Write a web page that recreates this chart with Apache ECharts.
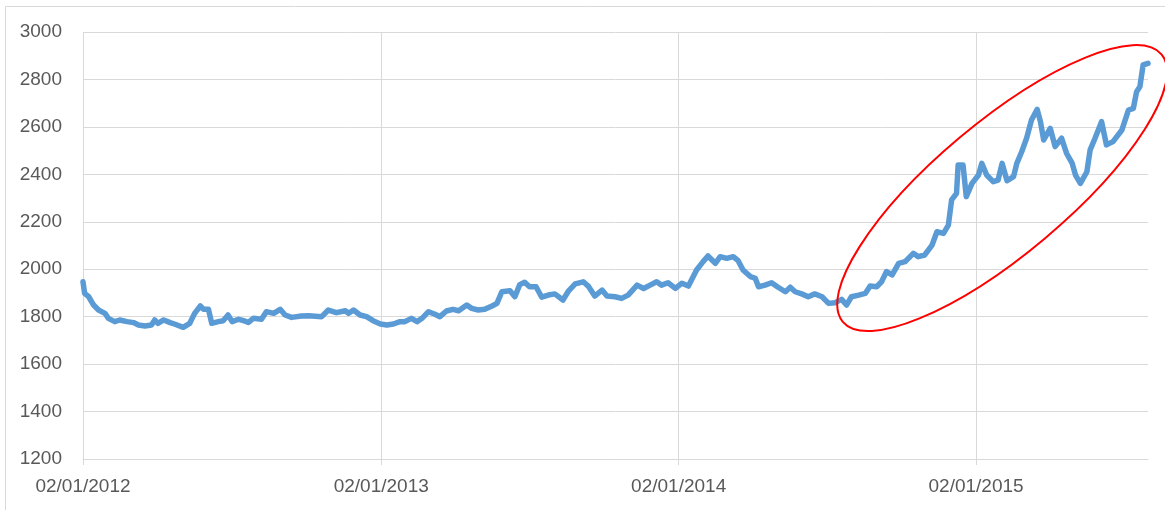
<!DOCTYPE html>
<html>
<head>
<meta charset="utf-8">
<script src="https://cdn.jsdelivr.net/npm/echarts@6/dist/echarts.min.js"></script>
<style>
  html, body { margin: 0; padding: 0; background: #fff; }
  #chart { width: 1165px; height: 510px; }
</style>
</head>
<body>
<div id="chart"></div>
<script>
// days since 02/01/2012
const dayOffsets = [
  0, 2, 7, 13, 19, 27, 31, 39, 45, 54,
  62, 68, 76, 84, 88, 92, 99, 107, 113, 123,
  131, 137, 144, 148, 154, 158, 166, 172, 178, 183,
  191, 197, 203, 209, 219, 225, 234, 242, 248, 256,
  268, 277, 293, 301, 311, 322, 326, 332, 340, 348,
  356, 365, 373, 381, 389, 395, 403, 410, 416, 424,
  432, 438, 446, 454, 461, 471, 477, 485, 493, 502,
  508, 514, 524, 530, 536, 542, 548, 556, 563, 571,
  579, 589, 596, 604, 614, 620, 628, 637, 643, 653,
  661, 669, 680, 688, 696, 704, 710, 718, 727, 735,
  743, 753, 761, 767, 776, 782, 790, 798, 804, 810,
  819, 825, 829, 837, 845, 853, 862, 868, 874, 882,
  890, 898, 907, 915, 923, 931, 937, 943, 952, 960,
  966, 974, 980, 986, 993, 1001, 1009, 1019, 1025, 1033,
  1042, 1048, 1056, 1062, 1066, 1072, 1074, 1080, 1084, 1091,
  1099, 1103, 1109, 1117, 1123, 1128, 1134, 1142, 1146, 1152,
  1158, 1164, 1171, 1175, 1179, 1187, 1193, 1201, 1207, 1214,
  1218, 1224, 1232, 1236, 1242, 1250, 1256, 1264, 1275, 1283,
  1289, 1293, 1297, 1301, 1307
];

const prices = [
  1947, 1898, 1884, 1849, 1828, 1814, 1793, 1779, 1786, 1779,
  1775, 1765, 1761, 1765, 1786, 1772, 1786, 1775, 1768, 1755,
  1772, 1814, 1845, 1831, 1831, 1772, 1779, 1783, 1807, 1779,
  1789, 1783, 1776, 1793, 1789, 1821, 1814, 1831, 1807, 1797,
  1803, 1804, 1800, 1828, 1817, 1825, 1814, 1828, 1807, 1800,
  1783, 1769, 1765, 1769, 1779, 1779, 1793, 1779, 1793, 1821,
  1810, 1800, 1824, 1831, 1825, 1849, 1835, 1828, 1831, 1845,
  1856, 1905, 1909, 1884, 1935, 1945, 1926, 1926, 1882, 1891,
  1896, 1870, 1909, 1938, 1947, 1929, 1887, 1912, 1887, 1884,
  1877, 1891, 1933, 1919, 1933, 1947, 1933, 1943, 1919, 1941,
  1929, 1997, 2032, 2056, 2025, 2053, 2046, 2053, 2036, 1997,
  1969, 1962, 1926, 1933, 1943, 1924, 1905, 1924, 1905, 1896,
  1884, 1896, 1884, 1856, 1859, 1873, 1849, 1884, 1891, 1898,
  1929, 1926, 1947, 1990, 1976, 2025, 2032, 2067, 2053, 2060,
  2102, 2158, 2151, 2186, 2292, 2320, 2439, 2439, 2306, 2362,
  2397, 2446, 2397, 2369, 2376, 2446, 2373, 2390, 2446, 2495,
  2552, 2629, 2674, 2622, 2545, 2594, 2517, 2552, 2489, 2446,
  2397, 2362, 2411, 2503, 2552, 2622, 2524, 2538, 2587, 2671,
  2678, 2748, 2769, 2861, 2868
];

// year ticks
const tickDays = [0, 366, 731, 1096];
const tickLabels = ["02/01/2012", "02/01/2013", "02/01/2014", "02/01/2015"];

const LINE_COLOR = "#5B9BD5";
const GRID_COLOR = "#d9d9d9";
const TEXT_COLOR = "#595959";
const FONT = "Liberation Sans";

const chart = echarts.init(document.getElementById("chart"));

chart.setOption({
  animation: false,
  grid: { left: 83, right: 17, top: 32, bottom: 51 },
  xAxis: {
    type: "value",
    min: 0,
    max: 1307,
    axisLine: { show: true, lineStyle: { color: GRID_COLOR, width: 1 } },
    axisTick: {
      show: true,
      customValues: tickDays,
      length: 6,
      lineStyle: { color: GRID_COLOR }
    },
    axisLabel: {
      customValues: tickDays,
      margin: 18,
      color: TEXT_COLOR,
      fontFamily: FONT,
      fontSize: 19,
      formatter: (v) => {
        const i = tickDays.indexOf(Math.round(v));
        return i >= 0 ? tickLabels[i] : "";
      }
    },
    splitLine: { show: true, lineStyle: { color: GRID_COLOR, width: 1 } }
  },
  yAxis: {
    type: "value",
    min: 1200,
    max: 3000,
    interval: 200,
    axisLine: { show: false },
    axisTick: { show: false },
    axisLabel: {
      margin: 21,
      color: TEXT_COLOR,
      fontFamily: FONT,
      fontSize: 19,
      formatter: (v) => String(v)
    },
    splitLine: { show: true, lineStyle: { color: GRID_COLOR, width: 1 } }
  },
  series: [{
    type: "line",
    data: dayOffsets.map((d, i) => [d, prices[i]]),
    showSymbol: false,
    lineStyle: { color: LINE_COLOR, width: 5.5, join: "round", cap: "round" }
  }]
});

// red ellipse round the 2014-2015 rise
const ellipseCenter = chart.convertToPixel({ gridIndex: 0 }, [1128, 2342]);

chart.setOption({
  graphic: [
    {
      type: "rect",
      shape: { x: 5.5, y: 6.5, width: 1200, height: 600 },
      style: { fill: "none", stroke: GRID_COLOR, lineWidth: 1 },
      silent: true
    },
    {
      type: "ellipse",
      x: ellipseCenter[0],
      y: ellipseCenter[1],
      rotation: 40 * Math.PI / 180,
      shape: { cx: 0, cy: 0, rx: 208, ry: 66 },
      style: { fill: "none", stroke: "#ff0000", lineWidth: 2 },
      z: 100
    }
  ]
});
</script>
</body>
</html>
